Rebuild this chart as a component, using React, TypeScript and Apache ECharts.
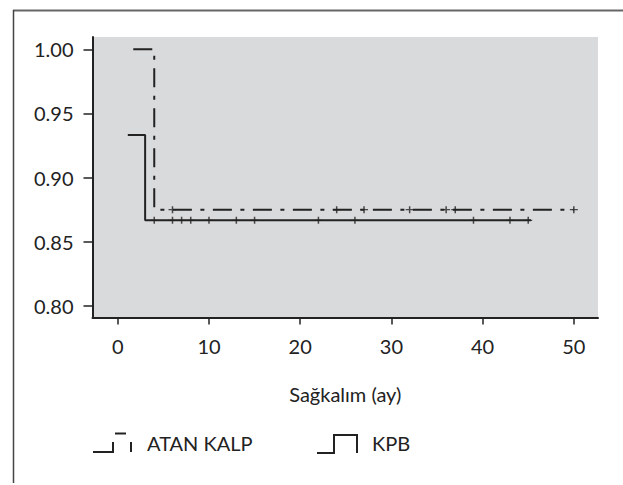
import React, { useEffect, useRef } from "react";
import * as echarts from "echarts";

const xTicks = [0, 10, 20, 30, 40, 50];
const yTicks = [0.8, 0.85, 0.9, 0.95, 1.0];
const seriesNames = ["ATAN KALP", "KPB"];
const axisTitle = "Sağkalım (ay)";
// Kaplan-Meier step points [time, survival]
const atanCurve = [
  [1.7, 1.0],
  [4, 0.875],
  [50, 0.875],
];
const kpbCurve = [
  [1.1, 0.9333],
  [3, 0.8667],
  [45.3, 0.8667],
];
// censored times
const atanCensor = [6, 24, 27, 32, 36, 37, 50];
const kpbCensor = [4, 6, 7, 8, 10, 13, 15, 22, 26, 39, 43, 45];

const FONT = "Lato";
const INK = "#222";

function levelAt(curve: number[][], t: number) {
  let v = curve[0][1];
  for (const p of curve) if (p[0] <= t) v = p[1];
  return v;
}

const PLUS =
  "path://M3.25,0h1.5v3.25h3.25v1.5h-3.25v3.25h-1.5v-3.25h-3.25v-1.5h3.25z";

export default function App() {
  const ref = useRef<HTMLDivElement>(null);
  useEffect(() => {
    document.body.style.margin = "0";
    const chart = echarts.init(ref.current!, null, { renderer: "svg" });
    chart.setOption({
      animation: false,
      backgroundColor: "#ffffff",
      grid: {
        left: 92.5,
        top: 37,
        right: 25,
        bottom: 167.5,
        show: true,
        backgroundColor: "#d9dadc",
        borderWidth: 0,
      },
      xAxis: {
        type: "value",
        min: -2.77,
        max: 52.65,
        name: axisTitle,
        nameLocation: "middle",
        nameGap: 66,
        nameTextStyle: { fontFamily: FONT, fontSize: 20, color: INK },
        axisLine: { show: true, onZero: false, lineStyle: { color: INK, width: 2 } },
        axisTick: { show: true, length: 7, customValues: xTicks, lineStyle: { color: INK, width: 1.5 } },
        axisLabel: {
          customValues: xTicks,
          margin: 18,
          fontFamily: FONT,
          fontSize: 20,
          color: INK,
        },
        splitLine: { show: false },
      },
      yAxis: {
        type: "value",
        min: 0.791,
        max: 1.0096,
        axisLine: { show: true, onZero: false, lineStyle: { color: INK, width: 2 } },
        axisTick: { show: true, length: 9, customValues: yTicks, lineStyle: { color: INK, width: 1.5 } },
        axisLabel: {
          customValues: yTicks,
          margin: 19,
          fontFamily: FONT,
          fontSize: 20,
          color: INK,
          formatter: (v: number) => v.toFixed(2),
        },
        splitLine: { show: false },
      },
      series: [
        {
          name: seriesNames[0],
          type: "line",
          step: "end",
          data: atanCurve,
          symbol: "none",
          lineStyle: { color: INK, width: 2, type: [19, 8.5, 4, 8.5] },
        },
        {
          name: seriesNames[1],
          type: "line",
          step: "end",
          data: kpbCurve,
          symbol: "none",
          lineStyle: { color: INK, width: 2, type: "solid" },
        },
        {
          type: "scatter",
          data: atanCensor.map((t) => [t, levelAt(atanCurve, t)]),
          symbol: PLUS,
          symbolSize: [8, 7],
          itemStyle: { color: INK },
        },
        {
          type: "scatter",
          data: kpbCensor.map((t) => [t, levelAt(kpbCurve, t)]),
          symbol: PLUS,
          symbolSize: [8, 7],
          itemStyle: { color: INK },
        },
      ],
      graphic: [
        { type: "line", shape: { x1: 13, y1: 10.5, x2: 623, y2: 10.5 }, style: { stroke: "#666", lineWidth: 2 } },
        { type: "line", shape: { x1: 13.5, y1: 10, x2: 13.5, y2: 483 }, style: { stroke: "#444", lineWidth: 1.5 } },
        // legend icon ATAN KALP (dashed step)
        { type: "polyline", shape: { points: [[93, 452], [113, 452], [113, 442]] }, style: { stroke: INK, lineWidth: 2, fill: null } },
        { type: "line", shape: { x1: 115, y1: 433.5, x2: 126, y2: 433.5 }, style: { stroke: INK, lineWidth: 2 } },
        { type: "line", shape: { x1: 131, y1: 442, x2: 131, y2: 452 }, style: { stroke: INK, lineWidth: 2 } },
        { type: "text", x: 147, y: 443, style: { text: seriesNames[0], fontFamily: FONT, fontSize: 20, fill: INK, verticalAlign: "middle" } },
        // legend icon KPB
        { type: "polyline", shape: { points: [[317, 453], [334, 453], [334, 435], [357, 435], [357, 453]] }, style: { stroke: INK, lineWidth: 2, fill: null } },
        { type: "text", x: 372, y: 443, style: { text: seriesNames[1], fontFamily: FONT, fontSize: 20, fill: INK, verticalAlign: "middle" } },
      ],
    });
    return () => chart.dispose();
  }, []);
  return <div ref={ref} style={{ width: 623, height: 485 }} />;
}
